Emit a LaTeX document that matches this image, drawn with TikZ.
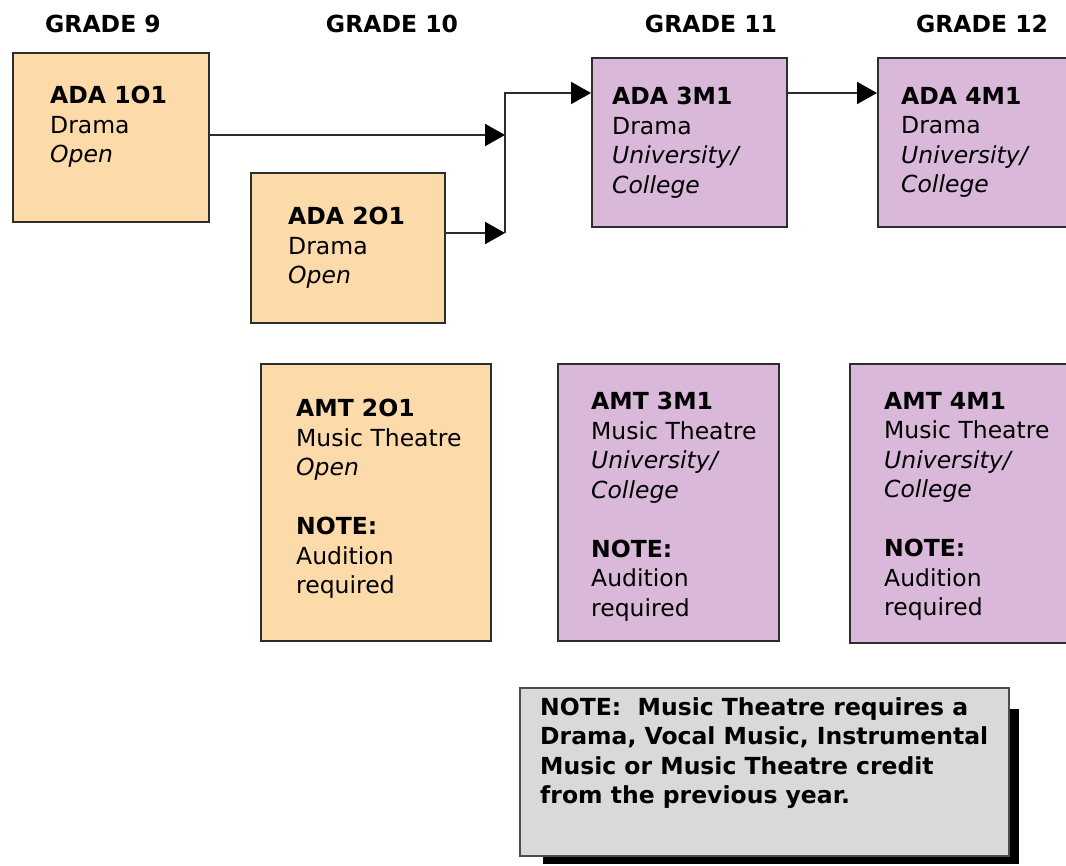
\documentclass[tikz,border=0pt]{standalone}
\usepackage{fontspec}
\setmainfont{DejaVu Sans}
\usetikzlibrary{arrows.meta}
\definecolor{peach}{RGB}{252,218,170}
\definecolor{lilac}{RGB}{217,184,218}
\definecolor{notegray}{RGB}{217,217,217}
\definecolor{edge}{RGB}{45,45,45}
\begin{document}
\begin{tikzpicture}[x=1pt,y=-1pt,every node/.style={font=\fontsize{23.5pt}{29.5pt}\selectfont},grade/.style={font=\fontsize{23.5pt}{29.5pt}\selectfont\bfseries},openbox/.style={rectangle,draw=edge,line width=2pt,fill=peach,anchor=north west,inner sep=0pt},unibox/.style={rectangle,draw=edge,line width=2pt,fill=lilac,anchor=north west,inner sep=0pt},notebox/.style={rectangle,draw=black!70,line width=1.5pt,fill=notegray,anchor=north west,inner sep=0pt},shadowbox/.style={rectangle,fill=black,anchor=north west,inner sep=0pt},txt/.style={anchor=north west,align=left,inner sep=0pt},arrow/.style={-{Triangle[length=20pt,width=22pt,color=black]},draw=edge,line width=2pt}]
\path[use as bounding box,fill=white](0,0)rectangle(1066,866);
\clip(0,0)rectangle(1066,866);
\node[grade](g9)at(103,23.5){GRADE 9};
\node[grade](g10)at(392,23.5){GRADE 10};
\node[grade](g11)at(711,23.5){GRADE 11};
\node[grade](g12)at(982,23.5){GRADE 12};
\node[openbox,minimum width=196pt,minimum height=169pt](ada1o1)at(12,52){};
\node[openbox,minimum width=194pt,minimum height=150pt](ada2o1)at(250,172){};
\node[unibox,minimum width=195pt,minimum height=169pt](ada3m1)at(591,57){};
\node[unibox,minimum width=220pt,minimum height=169pt](ada4m1)at(877,57){};
\node[openbox,minimum width=230pt,minimum height=277pt](amt2o1)at(260,363){};
\node[unibox,minimum width=221pt,minimum height=277pt](amt3m1)at(557,363){};
\node[unibox,minimum width=240pt,minimum height=279pt](amt4m1)at(849,363){};
\node[shadowbox,minimum width=476pt,minimum height=155pt](shadow)at(543,709){};
\node[notebox,minimum width=489pt,minimum height=168pt](note)at(519,687){};
\node[txt](ada1o1txt)at([shift={(38,34)}]ada1o1.north west){\textbf{ADA 1O1}\\Drama\\\textit{Open}};
\node[txt](ada2o1txt)at([shift={(38,35)}]ada2o1.north west){\textbf{ADA 2O1}\\Drama\\\textit{Open}};
\node[txt](ada3m1txt)at([shift={(21,30)}]ada3m1.north west){\textbf{ADA 3M1}\\Drama\\\textit{University/}\\\textit{College}};
\node[txt](ada4m1txt)at([shift={(24,30)}]ada4m1.north west){\textbf{ADA 4M1}\\Drama\\\textit{University/}\\\textit{College}};
\node[txt](amt2o1txt)at([shift={(36,36)}]amt2o1.north west){\textbf{AMT 2O1}\\Music Theatre\\\textit{Open}\\[29.5pt]\textbf{NOTE:}\\Audition\\required};
\node[txt](amt3m1txt)at([shift={(34,29)}]amt3m1.north west){\textbf{AMT 3M1}\\Music Theatre\\\textit{University/}\\\textit{College}\\[29.5pt]\textbf{NOTE:}\\Audition\\required};
\node[txt](amt4m1txt)at([shift={(35,29)}]amt4m1.north west){\textbf{AMT 4M1}\\Music Theatre\\\textit{University/}\\\textit{College}\\[29.5pt]\textbf{NOTE:}\\Audition\\required};
\node[txt,font=\fontsize{23.5pt}{29.5pt}\selectfont\bfseries](notetxt)at([shift={(21,10)}]note.north west){NOTE:\ \ Music Theatre requires a\\Drama, Vocal Music, Instrumental\\Music or Music Theatre credit\\from the previous year.};
\coordinate(jtop)at(505,93);\coordinate(jmid)at(505,135);\coordinate(jbot)at(505,233);
\draw[arrow](ada1o1.east|-jmid)--(jmid);\draw[arrow](ada2o1.east|-jbot)--(jbot);\draw[arrow](jbot)--(jtop)--(ada3m1.west|-jtop);\draw[arrow](ada3m1.east|-jtop)--(ada4m1.west|-jtop);
\end{tikzpicture}
\end{document}
